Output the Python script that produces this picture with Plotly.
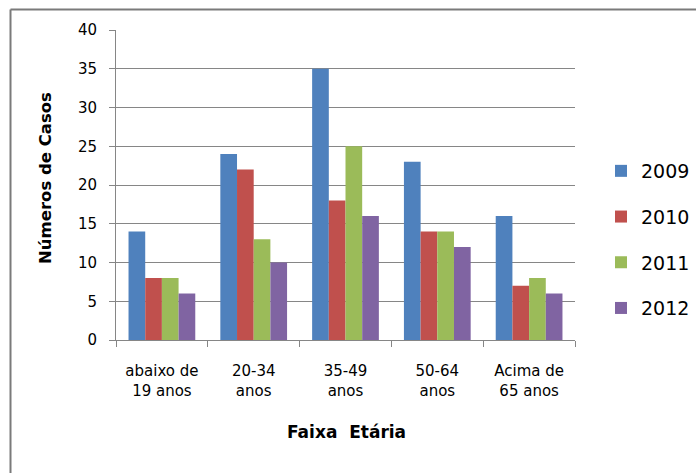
import plotly.graph_objects as go

# Casos por faixa etária, 2009–2012
faixas = ["abaixo de<br>19 anos", "20-34<br>anos", "35-49<br>anos", "50-64<br>anos", "Acima de<br>65 anos"]
anos = ["2009", "2010", "2011", "2012"]
casos_2009 = [14, 24, 35, 23, 16]
casos_2010 = [8, 22, 18, 14, 7]
casos_2011 = [8, 13, 25, 14, 8]
casos_2012 = [6, 10, 16, 12, 6]
cores = ["#4F81BD", "#C0504D", "#9BBB59", "#8064A2"]

W, H = 696, 473
L, R, T, B = 116, 0, 30, 133
pw, ph = W - L - R, H - T - B
PLOT_RIGHT = 575  # right edge of the bar area, in pixels


def px_x(x):
    return (x - L) / pw


def px_y(y):
    return (H - B - y) / ph


FONT = "DejaVu Sans"
GRID = "#868686"

fig = go.Figure()
for ano, valores, cor in zip(anos, [casos_2009, casos_2010, casos_2011, casos_2012], cores):
    fig.add_trace(go.Bar(
        x=faixas, y=valores, name=ano, marker=dict(color=cor, line=dict(width=0)),
        legendgroup=ano,
    ))

fig.update_layout(
    width=W, height=H,
    margin=dict(l=L, r=R, t=T, b=B, autoexpand=False),
    paper_bgcolor="white", plot_bgcolor="white",
    barmode="group", bargap=0.273, bargroupgap=0,
    font=dict(family=FONT, color="#000000"),
    showlegend=True,
    legend=dict(
        x=px_x(601), y=px_y(152), xanchor="left", yanchor="top",
        font=dict(size=19, family=FONT), tracegroupgap=18,
        bgcolor="rgba(0,0,0,0)",
    ),
    xaxis=dict(
        domain=[0, px_x(PLOT_RIGHT)],
        showgrid=False, showline=True, linecolor=GRID, linewidth=1,
        ticks="outside", tickson="boundaries", ticklen=6, tickcolor=GRID,
        tickfont=dict(size=15, family=FONT), ticklabelstandoff=17,
    ),
    yaxis=dict(
        range=[0, 40], dtick=5, showgrid=True, gridcolor=GRID, gridwidth=1,
        showline=True, linecolor=GRID, linewidth=1,
        ticks="outside", ticklen=6, tickcolor=GRID,
        tickfont=dict(size=15, family=FONT), ticklabelstandoff=9,
        zeroline=False,
    ),
    annotations=[
        dict(text="<b>Números de Casos</b>", x=px_x(45), y=px_y(178), xref="paper", yref="paper",
             textangle=-90, showarrow=False, font=dict(size=16.5, family=FONT),
             xanchor="center", yanchor="middle"),
        dict(text="<b>Faixa  Etária</b>", x=px_x(346), y=px_y(432), xref="paper", yref="paper",
             showarrow=False, font=dict(size=17, family=FONT),
             xanchor="center", yanchor="middle"),
    ],
    shapes=[
        dict(type="line", xref="paper", yref="paper", x0=px_x(10.5), x1=px_x(10.5),
             y0=px_y(473), y1=px_y(9.5), line=dict(color="#7a7a7a", width=2)),
        dict(type="line", xref="paper", yref="paper", x0=px_x(10.5), x1=px_x(696),
             y0=px_y(9.5), y1=px_y(9.5), line=dict(color="#7a7a7a", width=2)),
    ],
)

fig.write_html("out.html")
